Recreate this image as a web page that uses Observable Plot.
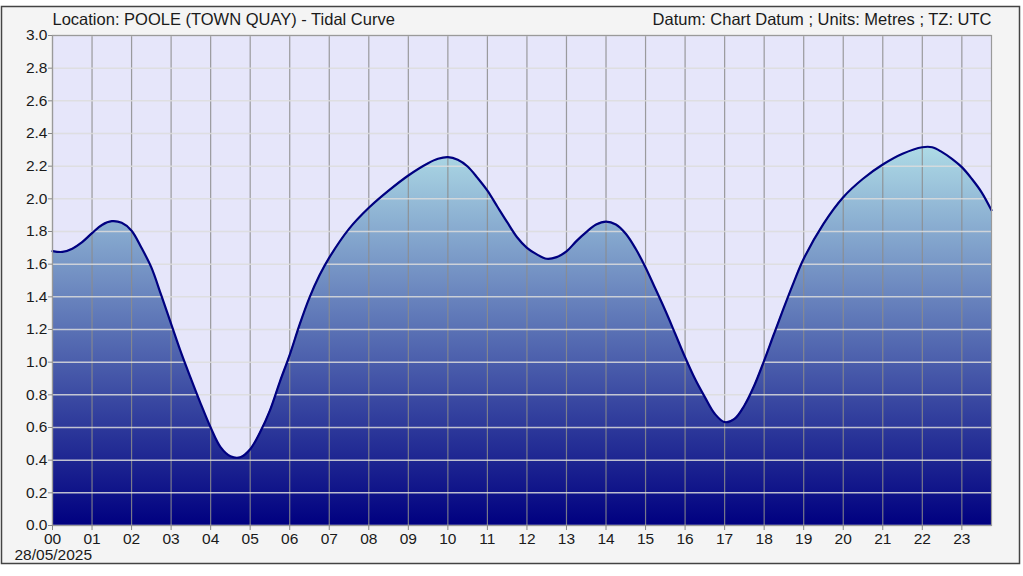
<!DOCTYPE html>
<html>
<head>
<meta charset="utf-8">
<script src="https://cdn.jsdelivr.net/npm/d3@7"></script>
<script src="https://cdn.jsdelivr.net/npm/@observablehq/plot@0.6"></script>
<style>
  html, body { margin: 0; padding: 0; background: #ffffff; }
  #chart svg { display: block; }
</style>
</head>
<body>
<div id="chart"></div>
<script>
const titleLeft = "Location: POOLE (TOWN QUAY) - Tidal Curve";
const titleRight = "Datum: Chart Datum ; Units: Metres ; TZ: UTC";
const dateLabel = "28/05/2025";

const hours = [
  0.00, 0.25, 0.50, 0.75, 1.00, 1.25, 1.50, 1.75, 2.00, 2.25, 2.50, 2.75,
  3.00, 3.25, 3.50, 3.75, 4.00, 4.25, 4.50, 4.75, 5.00, 5.25, 5.50, 5.75,
  6.00, 6.25, 6.50, 6.75, 7.00, 7.50, 8.00, 8.50, 9.00, 9.50, 9.75,
  10.00, 10.25, 10.50, 10.75, 11.00, 11.25, 11.50, 11.75,
  12.00, 12.25, 12.50, 12.75, 13.00, 13.25, 13.50, 13.75,
  14.00, 14.25, 14.50, 14.75, 15.00, 15.25, 15.50, 15.75,
  16.00, 16.25, 16.50, 16.75, 17.00, 17.25, 17.50, 17.75,
  18.00, 18.25, 18.50, 18.75, 19.00, 19.50, 20.00, 20.50,
  21.00, 21.50, 22.00, 22.25, 22.50, 22.75, 23.00, 23.25, 23.50, 23.75
];
const heights = [
  1.680, 1.675, 1.695, 1.735, 1.790, 1.840, 1.863, 1.853, 1.805, 1.700, 1.580, 1.410,
  1.235, 1.060, 0.900, 0.745, 0.600, 0.480, 0.424, 0.418, 0.467, 0.571, 0.705, 0.880,
  1.045, 1.230, 1.395, 1.530, 1.640, 1.816, 1.945, 2.050, 2.143, 2.218, 2.245,
  2.255, 2.239, 2.198, 2.128, 2.050, 1.953, 1.857, 1.765,
  1.700, 1.660, 1.633, 1.643, 1.678, 1.741, 1.796, 1.843,
  1.861, 1.843, 1.786, 1.694, 1.580, 1.449, 1.316, 1.174,
  1.030, 0.898, 0.786, 0.684, 0.633, 0.653, 0.735, 0.857,
  1.010, 1.174, 1.335, 1.490, 1.633, 1.847, 2.010, 2.123,
  2.210, 2.276, 2.316, 2.316, 2.286, 2.245, 2.194, 2.123, 2.040, 1.930
];
const hourTicks = d3.range(0, 24);
const heightTicks = d3.range(0, 16).map(i => +(i * 0.2).toFixed(1));

const tide = hours.map((h, i) => ({hour: h, height: heights[i]}));

const font = "'Liberation Sans', Arial, Helvetica, sans-serif";
const hourFormat = d => String(d).padStart(2, "0");

const chart = Plot.plot({
  width: 1023,
  height: 576,
  marginLeft: 52,
  marginRight: 32,
  marginTop: 35,
  marginBottom: 51,
  style: {fontFamily: font, fontSize: "15.5px", color: "#222", background: "transparent"},
  x: {domain: [0, 23.75], ticks: hourTicks, tickFormat: hourFormat, label: null},
  y: {domain: [0, 3], ticks: heightTicks, tickFormat: d3.format(".1f"), label: null},
  marks: [
    () => {
      const ns = "http://www.w3.org/2000/svg";
      const defs = document.createElementNS(ns, "defs");
      defs.innerHTML = `<linearGradient id="tideGrad" x1="0" y1="0" x2="0" y2="1">
        <stop offset="0%" stop-color="#aedbe6"/>
        <stop offset="100%" stop-color="#000080"/>
      </linearGradient>`;
      return defs;
    },
    Plot.frame({fill: "#e6e6fa", stroke: null}),
    Plot.areaY(tide, {x: "hour", y: "height", fill: "url(#tideGrad)", curve: "catmull-rom"}),
    Plot.gridX(hourTicks, {stroke: "#8c8c8c", strokeOpacity: 0.85, strokeWidth: 1.2}),
    Plot.gridY(heightTicks, {stroke: "#dcdcdc", strokeOpacity: 0.85, strokeWidth: 1.5}),
    Plot.lineY(tide, {x: "hour", y: "height", stroke: "#000080", strokeWidth: 2.2, curve: "catmull-rom"}),
    Plot.frame({stroke: "#9a9a9a", strokeWidth: 1.2}),
    Plot.axisX({ticks: hourTicks, tickFormat: hourFormat, tickSize: 5, tickPadding: 2, stroke: "#888", fill: "#1a1a1a", fontSize: 15.5}),
    Plot.axisY({ticks: heightTicks, tickFormat: d3.format(".1f"), tickSize: 4, tickPadding: 1, stroke: "#888", fill: "#1a1a1a", fontSize: 15.5}),
    Plot.text([titleLeft], {frameAnchor: "top-left", text: d => d, textAnchor: "start", lineAnchor: "middle", dy: -16, fontSize: 16.5, fill: "#1a1a1a"}),
    Plot.text([titleRight], {frameAnchor: "top-right", text: d => d, textAnchor: "end", lineAnchor: "middle", dy: -16, fontSize: 16.5, fill: "#1a1a1a"}),
    Plot.text([dateLabel], {frameAnchor: "bottom-left", text: d => d, textAnchor: "start", lineAnchor: "middle", dx: -38, dy: 30, fontSize: 15.5, fill: "#1a1a1a"})
  ]
});

d3.select(chart).insert("rect", ":first-child")
  .attr("x", 1.5).attr("y", 6.5).attr("width", 1018).attr("height", 557)
  .attr("fill", "#f4f4f4").attr("stroke", "#444").attr("stroke-width", 1.5);

document.getElementById("chart").appendChild(chart);
</script>
</body>
</html>
